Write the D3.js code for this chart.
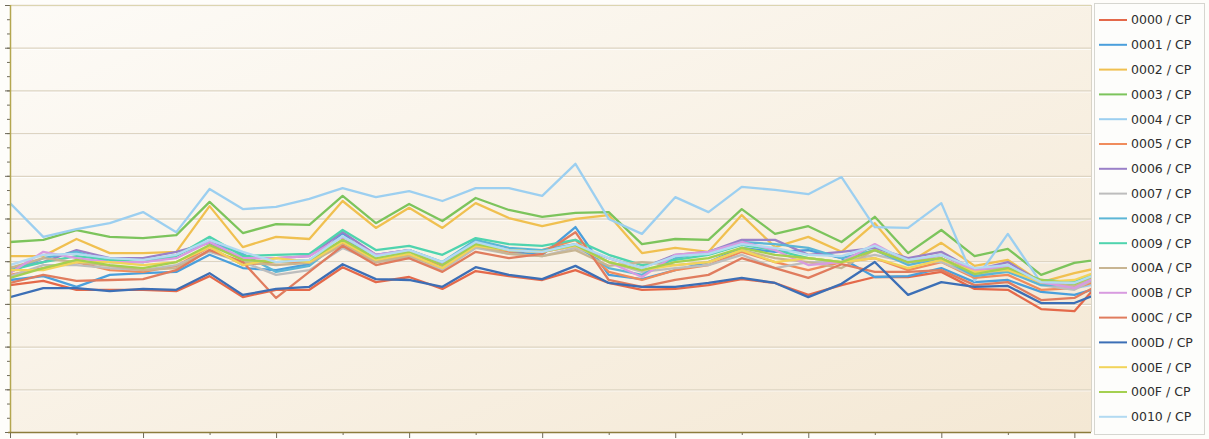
<!DOCTYPE html>
<html><head><meta charset="utf-8">
<script src="https://cdn.jsdelivr.net/npm/d3@7"></script>
<style>body{margin:0;background:#fff;}svg{display:block;}</style>
</head><body>
<script>
// ---- data ----
const seriesNames = ["0000 / CP","0001 / CP","0002 / CP","0003 / CP","0004 / CP","0005 / CP","0006 / CP","0007 / CP","0008 / CP","0009 / CP","000A / CP","000B / CP","000C / CP","000D / CP","000E / CP","000F / CP","0010 / CP"];
const seriesColors = ["#e4694a","#4a9fdc","#f0c050","#7cc45c","#9ccff0","#f08c5c","#9a80c8","#bdbdbd","#5cb6d6","#4fd4ae","#c8b592","#d89be0","#e07c5e","#3c6fb6","#f2d45a","#a4d050","#b2daf2"];
const s0000 = [34.4,35.4,33.3,33.3,33.3,33.0,36.5,31.6,33.3,33.3,38.6,35.1,36.3,33.5,37.7,36.5,35.6,37.9,34.9,33.3,33.5,34.4,35.8,34.9,32.1,34.4,36.3,36.3,37.5,33.5,33.3,28.8,28.3,37.2];
const s0001 = [35.6,36.5,34.0,36.8,37.2,37.5,41.5,38.4,37.9,39.3,46.6,39.8,41.5,38.9,45.0,42.2,41.5,48.0,36.8,35.8,37.9,39.8,43.1,42.2,42.6,40.7,36.3,36.5,38.4,35.1,35.6,32.8,32.1,34.4];
const s0002 = [41.2,41.2,45.2,41.9,41.9,42.2,52.9,43.3,45.7,45.2,54.1,47.8,52.5,47.8,53.6,50.1,48.2,49.9,50.8,41.9,43.1,42.2,50.8,43.3,45.7,42.2,48.9,39.6,44.3,38.9,40.3,35.1,37.2,38.9];
const s0003 = [44.5,45.0,47.3,45.7,45.4,46.1,53.9,46.6,48.7,48.5,55.3,48.9,53.4,49.4,54.8,52.0,50.4,51.3,51.5,44.0,45.2,45.0,52.2,46.4,48.2,44.5,50.4,41.9,47.3,41.2,42.9,36.8,39.6,40.7];
const s0004 = [53.6,45.7,47.5,48.9,51.5,46.8,56.9,52.2,52.7,54.6,57.1,55.0,56.4,54.1,57.1,57.1,55.3,62.8,49.9,46.4,55.0,51.5,57.4,56.7,55.7,59.7,48.0,47.8,53.6,35.4,46.4,34.9,33.7,35.1];
const s0005 = [36.8,38.4,39.8,37.9,37.5,38.9,43.3,39.1,39.8,39.8,44.3,39.8,41.5,39.1,43.3,42.2,42.6,45.0,37.5,35.6,37.9,39.1,42.2,39.8,37.9,39.8,40.7,37.9,39.8,36.1,36.8,33.3,33.7,36.1];
const s0006 = [38.4,39.8,42.6,40.7,40.7,42.2,44.3,40.7,40.7,41.2,46.8,41.5,42.6,39.6,44.0,42.6,42.2,43.6,40.7,38.4,41.5,42.2,45.0,45.0,41.5,42.2,43.1,40.7,42.2,37.9,39.8,35.1,34.7,38.4];
const s0007 = [36.5,39.1,39.1,38.4,37.9,39.1,42.2,39.8,36.8,37.9,43.1,39.8,40.7,37.9,43.1,41.7,41.2,43.1,39.8,37.5,38.4,39.1,41.5,38.4,39.8,39.8,41.5,39.8,39.8,36.5,37.9,34.4,33.3,37.5];
const s0008 = [37.5,40.7,42.2,39.8,39.8,41.5,44.5,41.7,37.5,38.9,45.0,41.5,42.6,39.8,45.0,43.1,42.6,44.0,38.4,36.8,40.7,42.2,44.5,44.0,43.1,40.7,42.6,39.1,40.7,36.5,37.5,34.4,34.4,36.8];
const s0009 = [37.9,39.8,41.2,40.3,39.8,41.2,45.7,41.2,41.5,41.7,47.3,42.6,43.6,41.5,45.4,44.0,43.6,45.0,41.5,39.1,40.3,41.5,43.8,42.6,40.7,39.8,43.8,39.8,41.5,37.9,38.4,35.6,35.1,38.4];
const s000A = [38.4,40.7,39.8,38.9,37.9,38.4,42.6,39.8,39.1,39.6,43.8,39.8,41.2,38.4,43.6,41.7,41.2,42.6,38.9,39.8,39.1,39.8,42.6,40.7,39.8,38.4,42.6,39.8,40.7,37.5,38.4,34.9,34.2,37.9];
const s000B = [37.2,42.2,40.7,39.8,39.8,40.7,44.5,40.7,40.7,41.2,45.7,41.5,42.6,39.1,44.0,42.6,42.2,43.6,39.8,36.3,41.5,42.2,44.5,42.6,39.1,39.8,44.0,39.8,41.5,37.9,38.9,35.1,33.7,37.5];
const s000C = [34.9,36.8,35.4,35.6,35.8,37.9,42.6,39.8,31.4,37.5,43.6,39.1,40.7,37.5,42.2,40.7,41.7,46.8,35.6,34.0,35.6,36.8,40.7,38.4,36.1,39.3,37.5,37.5,37.9,34.4,35.1,30.9,31.4,35.6];
const s000D = [31.6,33.7,33.7,33.0,33.5,33.3,37.2,32.1,33.5,34.0,39.3,35.8,35.6,34.0,38.6,36.8,35.8,38.9,34.9,34.0,34.0,34.9,36.1,34.9,31.6,34.7,39.8,32.1,35.1,34.0,34.2,30.2,30.2,33.3];
const s000E = [37.9,37.9,39.8,39.8,39.1,39.8,43.3,39.1,40.7,39.8,44.5,40.3,41.7,38.4,43.6,42.6,42.2,43.6,39.8,37.9,39.1,39.8,42.6,39.8,40.7,39.8,40.7,38.4,40.3,37.5,37.9,35.1,35.6,38.4];
const s000F = [36.1,38.4,40.3,39.1,38.4,39.8,43.8,40.3,39.8,40.3,45.0,40.7,42.2,39.1,44.0,42.6,42.2,43.8,39.8,37.9,39.8,40.7,43.1,41.5,40.7,39.8,42.6,39.8,40.7,37.0,38.4,35.6,34.7,37.9];
const s0010 = [39.1,41.5,41.7,40.7,40.3,41.5,45.0,42.2,39.8,40.3,45.9,41.2,42.6,39.8,44.5,42.6,42.2,44.0,40.7,38.4,41.2,41.7,44.0,43.1,41.5,41.2,43.6,40.3,41.5,38.4,39.1,35.1,34.9,37.9];
const seriesValues = [s0000,s0001,s0002,s0003,s0004,s0005,s0006,s0007,s0008,s0009,s000A,s000B,s000C,s000D,s000E,s000F,s0010];
const yMajorTicks = [0,10,20,30,40,50,60,70,80,90,100];

// ---- drawing ----
const W = 1209, H = 439;
const plot = {l:10, r:1091, t:5, b:432};
const svg = d3.select("body").append("svg").attr("width",W).attr("height",H);
const defs = svg.append("defs");
const g = defs.append("linearGradient").attr("id","bg").attr("x1","0").attr("y1","0").attr("x2","1").attr("y2","1");
g.append("stop").attr("offset","0%").attr("stop-color","#fdfbf7");
g.append("stop").attr("offset","100%").attr("stop-color","#f4e8d4");
defs.append("clipPath").attr("id","clip").append("rect")
  .attr("x",plot.l).attr("y",plot.t).attr("width",plot.r-plot.l).attr("height",plot.b-plot.t);

svg.append("rect").attr("width",W).attr("height",H).attr("fill","#fefdfa");
svg.append("rect").attr("x",plot.l).attr("y",plot.t).attr("width",plot.r-plot.l).attr("height",plot.b-plot.t).attr("fill","url(#bg)");

const nPts = s0000.length;
const x = d3.scaleLinear().domain([0, 32.5]).range([plot.l, plot.r]);
const y = d3.scaleLinear().domain([0, 100]).range([plot.b, plot.t]);

// gridlines
const grid = svg.append("g");
yMajorTicks.slice(1).forEach(v=>{
  grid.append("line").attr("x1",plot.l).attr("x2",plot.r).attr("y1",y(v)+1.5).attr("y2",y(v)+1.5).attr("stroke","#ffffff").attr("stroke-width",1);
  grid.append("line").attr("x1",plot.l).attr("x2",plot.r).attr("y1",y(v)+0.5).attr("y2",y(v)+0.5).attr("stroke","#ddd4c2").attr("stroke-width",1.3);
});
// top & right border
svg.append("line").attr("x1",plot.l).attr("x2",plot.r).attr("y1",plot.t+0.5).attr("y2",plot.t+0.5).attr("stroke","#dcd5b0");
svg.append("line").attr("x1",plot.r+0.5).attr("x2",plot.r+0.5).attr("y1",plot.t).attr("y2",plot.b).attr("stroke","#d8d4c8");

// lines
const line = d3.line().x((d,i)=>x(i)).y(d=>y(d));
const lg = svg.append("g").attr("clip-path","url(#clip)");
seriesValues.forEach((vals,k)=>{
  lg.append("path").datum(vals).attr("d",line).attr("fill","none")
    .attr("stroke",seriesColors[k]).attr("stroke-width",2.3).attr("stroke-linejoin","round");
});

// left axis
const minorY = d3.range(0,100.01,10/3);
const yAxMinor = d3.axisLeft(y).tickValues(minorY).tickSize(3).tickFormat("");
const yAxMajor = d3.axisLeft(y).tickValues(yMajorTicks).tickSize(5).tickFormat("");
const ya1 = svg.append("g").attr("transform",`translate(${plot.l},0)`).call(yAxMinor);
const ya2 = svg.append("g").attr("transform",`translate(${plot.l},0)`).call(yAxMajor);
[ya1,ya2].forEach(a=>{a.select(".domain").remove(); a.selectAll("line").attr("stroke","#6f6a5a");});
svg.append("line").attr("x1",plot.l+0.5).attr("x2",plot.l+0.5).attr("y1",plot.t).attr("y2",plot.b).attr("stroke","#b4a650").attr("stroke-width",1.5);

// bottom axis
const xMajor = d3.range(0, nPts, 4);
const xMinor = d3.range(2, nPts, 4);
const xa1 = svg.append("g").attr("transform",`translate(0,${plot.b})`).call(d3.axisBottom(x).tickValues(xMinor).tickSize(3).tickFormat(""));
const xa2 = svg.append("g").attr("transform",`translate(0,${plot.b})`).call(d3.axisBottom(x).tickValues(xMajor).tickSize(6).tickFormat(""));
[xa1,xa2].forEach(a=>{a.select(".domain").remove(); a.selectAll("line").attr("stroke","#6f6a5a");});
svg.append("line").attr("x1",plot.l-2).attr("x2",plot.r).attr("y1",plot.b+0.5).attr("y2",plot.b+0.5).attr("stroke","#8c7c3c").attr("stroke-width",1.5);

// legend
const leg = svg.append("g");
leg.append("rect").attr("x",1094.5).attr("y",3.5).attr("width",110).attr("height",431).attr("fill","#fdfdfb").attr("stroke","#d6d6d0");
seriesNames.forEach((n,k)=>{
  const yy = 20 + k*24.8;
  leg.append("line").attr("x1",1099).attr("x2",1127).attr("y1",yy).attr("y2",yy).attr("stroke",seriesColors[k]).attr("stroke-width",2);
  leg.append("text").attr("x",1131).attr("y",yy+4.4).text(n)
    .attr("font-family","DejaVu Sans, Verdana, sans-serif").attr("font-size","12.5px").attr("fill","#2e2e2e");
});
</script>
</body></html>
